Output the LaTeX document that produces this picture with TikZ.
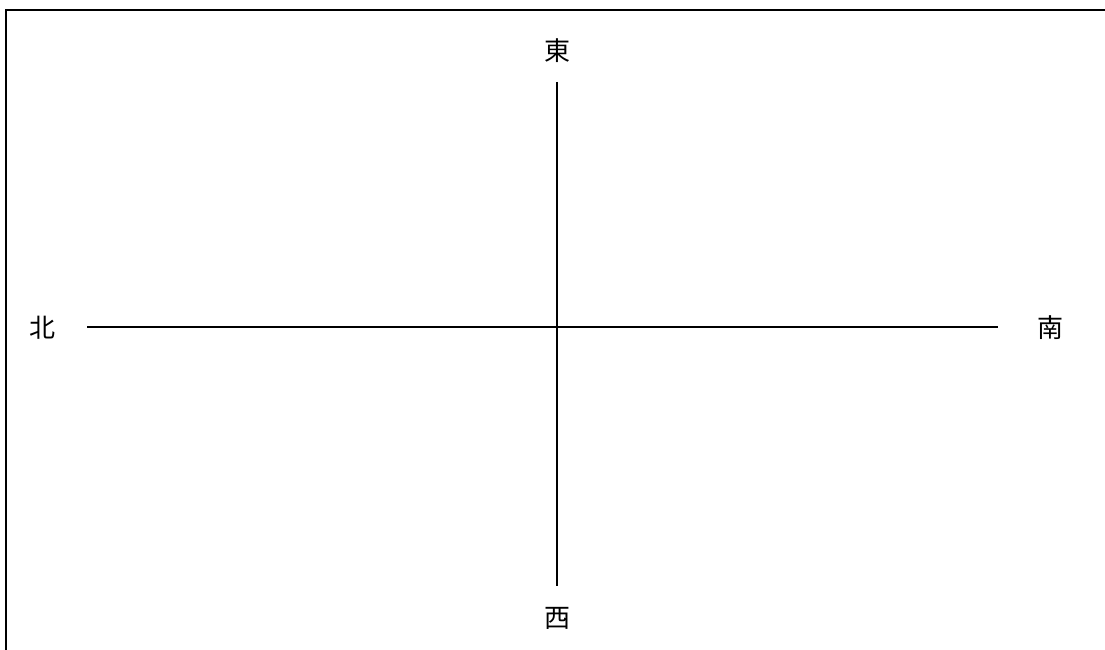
\documentclass[tikz,border=0pt]{standalone}
\usepackage{fontspec}
\newfontfamily\cjk{Noto Sans CJK JP}
\begin{document}
\begin{tikzpicture}[x=1pt,y=-1pt,
  axis/.style={line width=1.6pt,black},
  frame/.style={line width=2.2pt,black},
  lab/.style={font=\cjk\fontsize{26}{30}\selectfont,inner sep=0pt}]
\useasboundingbox (0,0) rectangle (1105,650);
\begin{scope}
\clip (0,0) rectangle (1105,650);
\draw[frame] (6,10) rectangle (1120,670);
\end{scope}
\coordinate (top) at (557,82);
\coordinate (bottom) at (557,586);
\coordinate (left) at (87,327);
\coordinate (right) at (998,327);
\draw[axis] (top) -- (bottom);
\draw[axis] (left) -- (right);
\node[lab] (e) at (557,51) {東};
\node[lab] (w) at (557,618) {西};
\node[lab] (n) at (42,328) {北};
\node[lab] (s) at (1050,328) {南};
\end{tikzpicture}
\end{document}
